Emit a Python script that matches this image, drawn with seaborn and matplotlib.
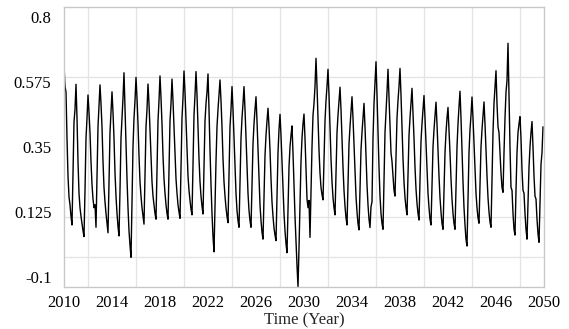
import numpy as np
import pandas as pd
import matplotlib
matplotlib.use("Agg")
import matplotlib.pyplot as plt
import seaborn as sns

start_year = 2010

# monthly values (Jan..Dec), one decade per list
vals_2010s = [
    0.634, 0.560, 0.540, 0.380, 0.250, 0.177, 0.150, 0.110, 0.080, 0.250, 0.437, 0.480,  # 2010
    0.567, 0.450, 0.300, 0.190, 0.140, 0.110, 0.085, 0.060, 0.040, 0.200, 0.380, 0.450,  # 2011
    0.530, 0.470, 0.400, 0.300, 0.220, 0.170, 0.140, 0.150, 0.072, 0.240, 0.420, 0.490,  # 2012
    0.565, 0.500, 0.420, 0.300, 0.210, 0.160, 0.120, 0.085, 0.053, 0.220, 0.400, 0.470,  # 2013
    0.541, 0.470, 0.380, 0.260, 0.180, 0.120, 0.075, 0.042, 0.200, 0.380, 0.450, 0.520,  # 2014
    0.607, 0.480, 0.360, 0.240, 0.140, 0.060, 0.010, -0.032, 0.150, 0.350, 0.450, 0.510,  # 2015
    0.591, 0.520, 0.430, 0.320, 0.230, 0.180, 0.140, 0.110, 0.083, 0.250, 0.420, 0.480,  # 2016
    0.568, 0.500, 0.410, 0.310, 0.230, 0.180, 0.150, 0.120, 0.100, 0.270, 0.440, 0.510,  # 2017
    0.596, 0.520, 0.430, 0.320, 0.240, 0.190, 0.150, 0.120, 0.100, 0.270, 0.440, 0.500,  # 2018
    0.585, 0.510, 0.420, 0.320, 0.240, 0.190, 0.150, 0.125, 0.103, 0.280, 0.450, 0.520,  # 2019
]
vals_2020s = [
    0.613, 0.540, 0.440, 0.330, 0.250, 0.200, 0.165, 0.135, 0.115, 0.290, 0.460, 0.530,  # 2020
    0.611, 0.530, 0.420, 0.310, 0.230, 0.180, 0.145, 0.118, 0.280, 0.440, 0.500, 0.540,  # 2021
    0.603, 0.480, 0.340, 0.220, 0.120, 0.040, -0.013, 0.150, 0.300, 0.420, 0.480, 0.530,  # 2022
    0.582, 0.510, 0.420, 0.310, 0.230, 0.180, 0.140, 0.110, 0.088, 0.250, 0.420, 0.480,  # 2023
    0.559, 0.480, 0.380, 0.270, 0.190, 0.130, 0.095, 0.072, 0.220, 0.380, 0.450, 0.500,  # 2024
    0.559, 0.480, 0.380, 0.270, 0.190, 0.130, 0.095, 0.072, 0.210, 0.360, 0.430, 0.480,  # 2025
    0.524, 0.440, 0.340, 0.230, 0.150, 0.095, 0.055, 0.031, 0.170, 0.320, 0.390, 0.440,  # 2026
    0.484, 0.420, 0.340, 0.240, 0.160, 0.110, 0.070, 0.045, 0.026, 0.180, 0.330, 0.410,  # 2027
    0.463, 0.390, 0.300, 0.200, 0.120, 0.060, 0.015, -0.016, 0.130, 0.280, 0.350, 0.390,  # 2028
    0.423, 0.330, 0.220, 0.110, 0.020, -0.060, -0.134, 0.000, 0.150, 0.300, 0.380, 0.430,  # 2029
]
vals_2030s = [
    0.464, 0.380, 0.270, 0.170, 0.140, 0.165, 0.037, 0.200, 0.350, 0.460, 0.500, 0.560,  # 2030
    0.657, 0.560, 0.450, 0.340, 0.260, 0.210, 0.185, 0.167, 0.300, 0.440, 0.510, 0.560,  # 2031
    0.619, 0.530, 0.420, 0.310, 0.230, 0.175, 0.140, 0.115, 0.260, 0.400, 0.460, 0.510,  # 2032
    0.557, 0.480, 0.380, 0.280, 0.200, 0.145, 0.105, 0.080, 0.220, 0.360, 0.420, 0.470,  # 2033
    0.524, 0.450, 0.360, 0.260, 0.180, 0.125, 0.085, 0.063, 0.200, 0.340, 0.400, 0.450,  # 2034
    0.501, 0.420, 0.320, 0.220, 0.150, 0.100, 0.071, 0.143, 0.160, 0.380, 0.500, 0.570,  # 2035
    0.645, 0.530, 0.400, 0.280, 0.180, 0.120, 0.085, 0.065, 0.230, 0.400, 0.470, 0.540,  # 2036
    0.619, 0.520, 0.420, 0.330, 0.300, 0.250, 0.200, 0.180, 0.320, 0.450, 0.510, 0.560,  # 2037
    0.622, 0.530, 0.420, 0.310, 0.230, 0.175, 0.140, 0.115, 0.250, 0.390, 0.450, 0.500,  # 2038
    0.553, 0.470, 0.380, 0.280, 0.205, 0.155, 0.120, 0.097, 0.230, 0.370, 0.430, 0.480,  # 2039
]
vals_2040s = [
    0.528, 0.450, 0.360, 0.260, 0.190, 0.140, 0.100, 0.080, 0.210, 0.350, 0.410, 0.460,  # 2040
    0.505, 0.430, 0.340, 0.250, 0.175, 0.125, 0.085, 0.065, 0.200, 0.330, 0.400, 0.450,  # 2041
    0.487, 0.410, 0.330, 0.240, 0.170, 0.120, 0.085, 0.065, 0.210, 0.350, 0.430, 0.490,  # 2042
    0.543, 0.450, 0.340, 0.230, 0.140, 0.080, 0.030, 0.007, 0.170, 0.330, 0.410, 0.460,  # 2043
    0.523, 0.450, 0.360, 0.260, 0.190, 0.140, 0.105, 0.086, 0.220, 0.350, 0.410, 0.460,  # 2044
    0.506, 0.430, 0.340, 0.250, 0.175, 0.125, 0.090, 0.072, 0.230, 0.400, 0.500, 0.560,  # 2045
    0.614, 0.500, 0.420, 0.400, 0.330, 0.260, 0.210, 0.193, 0.330, 0.450, 0.540, 0.580,  # 2046
    0.709, 0.520, 0.350, 0.210, 0.200, 0.120, 0.065, 0.045, 0.200, 0.330, 0.400, 0.430,  # 2047
    0.455, 0.380, 0.270, 0.200, 0.190, 0.120, 0.065, 0.031, 0.150, 0.280, 0.350, 0.400,  # 2048
    0.438, 0.350, 0.250, 0.180, 0.170, 0.100, 0.050, 0.020, 0.150, 0.290, 0.330, 0.420,  # 2049
]

x_ticks = list(range(2010, 2051, 4))
y_ticks = [-0.1, 0.125, 0.35, 0.575, 0.8]
y_grid = [-0.03, 0.108, 0.35, 0.592]

series = vals_2010s + vals_2020s + vals_2030s + vals_2040s
df = pd.DataFrame({
    "time": start_year + np.arange(len(series)) / 12,
    "value": series,
})

sns.set_theme(style="white")
plt.rcParams["font.family"] = ["Liberation Serif", "DejaVu Serif"]

fig = plt.figure(figsize=(5.69, 3.29), dpi=100)
ax = fig.add_axes([64 / 569, 42 / 329, 480 / 569, 280 / 329])

sns.lineplot(data=df, x="time", y="value", color="black", linewidth=1.0, ax=ax)

ax.set_xlim(2010, 2050)
ax.set_ylim(-0.1347, 0.8346)

ax.set_xticks(x_ticks)
ax.set_xticks(range(2010, 2051, 2), minor=True)
ax.set_yticks(y_ticks)
ax.set_yticklabels([f"{v:g}" for v in y_ticks])
ax.set_yticks(y_grid, minor=True)

ax.grid(False)
ax.grid(axis="x", which="minor", color="#e3e3e3", linewidth=0.9)
ax.grid(axis="y", which="minor", color="#e3e3e3", linewidth=0.9)
ax.set_axisbelow(True)

ax.tick_params(axis="both", which="both", length=0, labelsize=12, colors="black")
ax.tick_params(axis="y", pad=9)
ax.tick_params(axis="x", pad=6)

for side, spine in ax.spines.items():
    spine.set_color("#c8c8c8")
    spine.set_linewidth(1.0)

ax.set_xlabel("Time (Year)", fontsize=12, labelpad=1)
ax.set_ylabel("")

fig.savefig("out.png", dpi=100)
